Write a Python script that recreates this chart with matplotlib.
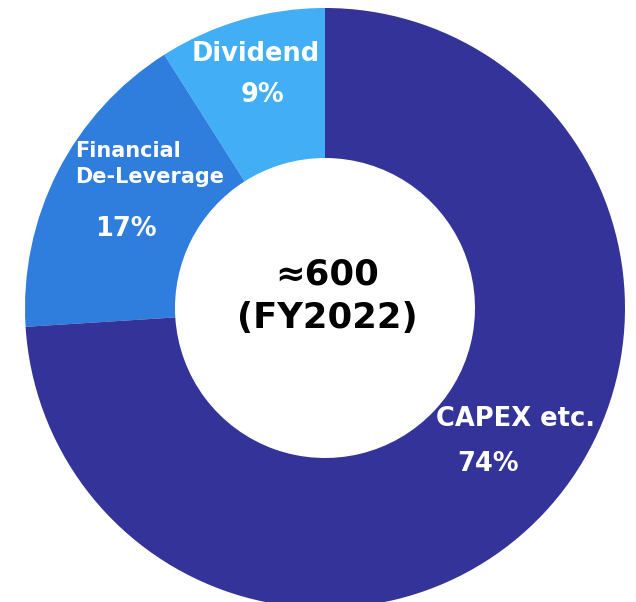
import matplotlib.pyplot as plt

# data
labels = ['Dividend', 'Financial\nDe-Leverage', 'CAPEX etc.']
shares = [9, 17, 74]
colors = ['#41AEF5', '#2F7DDC', '#333399']
center_text = '≈600\n(FY2022)'

fig = plt.figure(figsize=(6.36, 6.02), dpi=100)
# axes placed so the ring runs a bit past the bottom edge
ax = fig.add_axes([25 / 636, -6 / 602, 600 / 636, 600 / 602])

wedges, _ = ax.pie(shares, colors=colors, startangle=90, counterclock=True,
                   radius=1.0, wedgeprops=dict(width=0.5, linewidth=0))
ax.set_xlim(-1, 1)
ax.set_ylim(-1, 1)
ax.set_aspect('equal')
ax.axis('off')

# slice labels (pixel -> data helper)
def px(x, y):
    return (x - 325) / 300, (308 - y) / 300

kw = dict(color='white', fontweight='bold', family='DejaVu Sans')
ax.text(*px(256, 54), labels[0], ha='center', va='center', fontsize=18.5, **kw)
ax.text(*px(262, 95), f'{shares[0]}%', ha='center', va='center', fontsize=18.5, **kw)
ax.text(*px(75, 164), labels[1], ha='left', va='center', fontsize=15, linespacing=1.4, **kw)
ax.text(*px(126, 229), f'{shares[1]}%', ha='center', va='center', fontsize=18.5, **kw)
ax.text(*px(515, 419), labels[2], ha='center', va='center', fontsize=18.5, **kw)
ax.text(*px(488, 464), f'{shares[2]}%', ha='center', va='center', fontsize=18.5, **kw)

ax.text(*px(327, 296), center_text, ha='center', va='center', fontsize=25.5,
        fontweight='bold', color='black', linespacing=1.35)

fig.savefig('out.png', dpi=100)
